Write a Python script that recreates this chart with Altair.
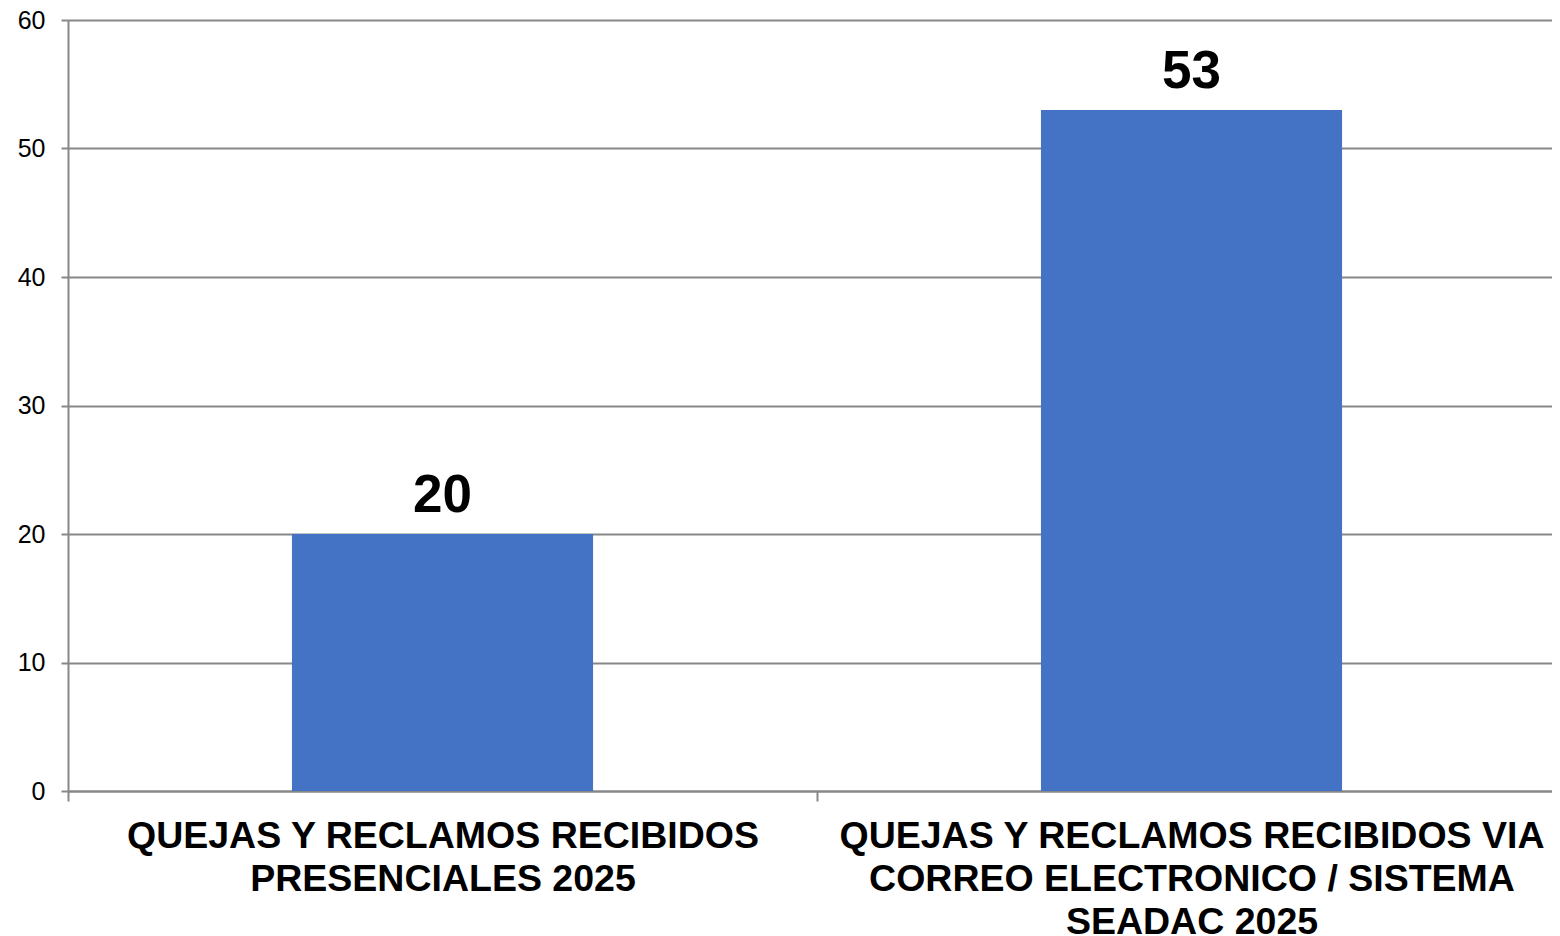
import altair as alt
import pandas as pd

categories = [
    "QUEJAS Y RECLAMOS RECIBIDOS PRESENCIALES 2025",
    "QUEJAS Y RECLAMOS RECIBIDOS VIA CORREO ELECTRONICO / SISTEMA SEADAC 2025",
]
label_lines = [
    ["QUEJAS Y RECLAMOS RECIBIDOS", "PRESENCIALES 2025"],
    ["QUEJAS Y RECLAMOS RECIBIDOS VIA", "CORREO ELECTRONICO / SISTEMA", "SEADAC 2025"],
]
values = [20, 53]
y_ticks = [0, 10, 20, 30, 40, 50, 60]

df = pd.DataFrame({"cat": categories, "val": values})


def arr(lines):
    return "[" + ",".join("'" + l.replace("'", "\\'") + "'" for l in lines) + "]"


label_expr = "datum.value == '{}' ? {} : (datum.value == '{}' ? {} : '')".format(
    categories[0], arr(label_lines[0]), categories[1], arr(label_lines[1])
)

FONT = "Liberation Sans"
GRAY = "#878787"

x = alt.X(
    "cat:N",
    sort=categories,
    scale=alt.Scale(paddingInner=0, paddingOuter=0, range=[0, 1498]),
    axis=alt.Axis(
        title=None,
        tickBand="extent",
        labelExpr=label_expr,
        labelAngle=0,
        labelFont=FONT,
        labelFontSize=37.5,
        labelFontWeight="bold",
        labelColor="#000000",
        labelLineHeight=43,
        labelBaseline="top",
        labelPadding=16,
        labelLimit=900,
        tickSize=10,
        tickColor=GRAY,
        tickWidth=2,
        domainColor=GRAY,
        domainWidth=2,
        grid=False,
    ),
)
y = alt.Y(
    "val:Q",
    scale=alt.Scale(domain=[0, 60], nice=False),
    axis=alt.Axis(
        title=None,
        values=y_ticks,
        labelFont=FONT,
        labelFontSize=25,
        labelColor="#000000",
        labelPadding=16,
        tickSize=7,
        tickColor=GRAY,
        tickWidth=2,
        domainColor=GRAY,
        domainWidth=2,
        gridColor=GRAY,
        gridWidth=2,
    ),
)

bars = alt.Chart(df).mark_bar(
    color="#4472C4", width=alt.RelativeBandSize(0.402)
).encode(x=x, y=y)

labels = alt.Chart(df).mark_text(
    font=FONT, fontSize=53, fontWeight="bold", color="#000000",
    baseline="alphabetic", dy=-22,
).encode(x=alt.X("cat:N", sort=categories), y=alt.Y("val:Q"), text=alt.Text("val:Q"))

chart = (
    alt.layer(bars, labels)
    .properties(
        width=1484,
        height=771,
        autosize=alt.AutoSizeParams(type="none"),
        padding={"left": 60, "top": 12, "right": 0, "bottom": 145},
    )
    .configure_view(stroke=None)
    .configure(background="#ffffff")
)

chart.save("out.html", embed_options={"renderer": "svg", "actions": False})
